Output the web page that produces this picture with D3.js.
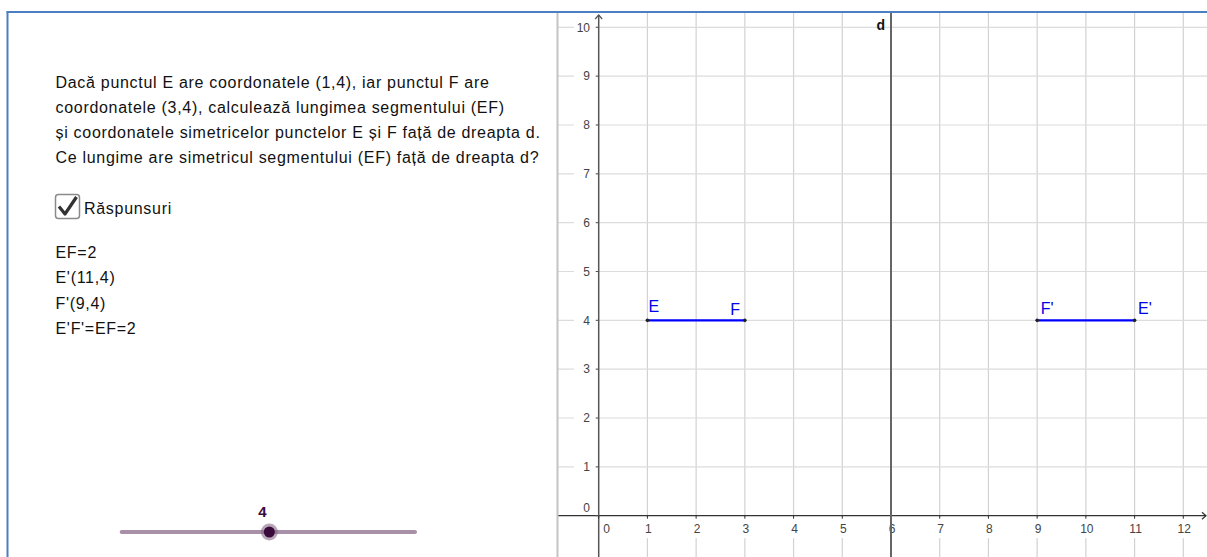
<!DOCTYPE html>
<html>
<head>
<meta charset="utf-8">
<script src="https://cdn.jsdelivr.net/npm/d3@7"></script>
<style>
html, body { margin: 0; padding: 0; background: #fff; overflow: hidden; }
text { font-family: "Liberation Sans", Arial, sans-serif; }
</style>
</head>
<body>
<div id="chart"></div>
<script>
// values
var xTicks = d3.range(0, 13);
var yTicks = d3.range(0, 11);
var pointNames = ["E", "F", "F'", "E'"];
var pointX = [1, 3, 9, 11];
var pointY = [4, 4, 4, 4];
var segments = [["E", "F"], ["F'", "E'"]];
var lineD = 6;
var questionLines = [
    "Dacă punctul E are coordonatele (1,4), iar punctul F are",
    "coordonatele (3,4), calculează lungimea segmentului (EF)",
    "și coordonatele simetricelor punctelor E și F față de dreapta d.",
    "Ce lungime are simetricul segmentului (EF) față de dreapta d?"
];
var checkboxLabel = "Răspunsuri";
var answerLines = ["EF=2", "E'(11,4)", "F'(9,4)", "E'F'=EF=2"];
var sliderMin = 0, sliderMax = 8, sliderValue = 4;

function init() {
    var w = 1207, h = 557;

    var svg = d3.select("#chart").append("svg")
        .attr("width", w)
        .attr("height", h);

    svg.append("rect").attr("width", w).attr("height", h).attr("fill", "#fff");

    // ---- graphics view ----
    var x = d3.scaleLinear().domain([0, 12]).range([598.7, 1183.3]);
    var y = d3.scaleLinear().domain([0, 10]).range([515.7, 27.3]);

    svg.append("clipPath").attr("id", "gclip")
        .append("rect").attr("x", 558).attr("y", 13).attr("width", w - 558).attr("height", h - 13);

    var g = svg.append("g").attr("clip-path", "url(#gclip)");

    // grid
    g.selectAll(".vgrid").data(xTicks.filter(d => d > 0)).enter().append("line")
        .attr("x1", d => x(d)).attr("x2", d => x(d))
        .attr("y1", 13).attr("y2", h)
        .attr("stroke", "#d2d2d2").attr("stroke-width", 1.2);
    g.selectAll(".hgrid").data(yTicks.filter(d => d > 0)).enter().append("line")
        .attr("x1", 558).attr("x2", w)
        .attr("y1", d => y(d)).attr("y2", d => y(d))
        .attr("stroke", "#dcdcdc").attr("stroke-width", 1.2);

    // axes
    g.append("line").attr("x1", 558).attr("x2", 1206)
        .attr("y1", y(0)).attr("y2", y(0))
        .attr("stroke", "#333").attr("stroke-width", 1.2);
    g.append("line").attr("x1", x(0)).attr("x2", x(0))
        .attr("y1", 15).attr("y2", h)
        .attr("stroke", "#555").attr("stroke-width", 1.5);
    // arrow heads
    g.append("path")
        .attr("d", "M" + (x(0) - 3.5) + ",19 L" + x(0) + ",15 L" + (x(0) + 3.5) + ",19")
        .attr("fill", "none").attr("stroke", "#555").attr("stroke-width", 1.2);
    g.append("path")
        .attr("d", "M1202," + (y(0) - 3.5) + " L1206," + y(0) + " L1202," + (y(0) + 3.5))
        .attr("fill", "none").attr("stroke", "#333").attr("stroke-width", 1.2);

    // y tick labels
    var yl = g.selectAll(".ylab").data(yTicks).enter().append("g");
    yl.filter(d => d > 0).append("rect")
        .attr("x", 574).attr("y", d => y(d) - 7).attr("width", 22).attr("height", 14)
        .attr("fill", "#fff");
    yl.append("line")
        .attr("x1", x(0) - 3).attr("x2", x(0))
        .attr("y1", d => y(d)).attr("y2", d => y(d))
        .attr("stroke", "#555");
    yl.append("text")
        .attr("x", 590)
        .attr("y", d => d === 0 ? y(d) - 3.5 : y(d) + 4.3)
        .attr("text-anchor", "end")
        .attr("font-size", 12)
        .attr("fill", "#444")
        .text(d => d);

    // x tick labels
    var xl = g.selectAll(".xlab").data(xTicks).enter().append("g");
    xl.append("rect")
        .attr("x", d => x(d) + (d === 0 ? 8 : 1) - (d >= 10 ? 9 : 6))
        .attr("y", y(0) + 1.5).attr("width", d => d >= 10 ? 18 : 12).attr("height", 21)
        .attr("fill", "#fff");
    xl.append("line")
        .attr("x1", d => x(d)).attr("x2", d => x(d))
        .attr("y1", y(0)).attr("y2", y(0) + 3)
        .attr("stroke", "#333");
    xl.append("text")
        .attr("x", d => x(d) + (d === 0 ? 8 : 1))
        .attr("y", 533)
        .attr("text-anchor", "middle")
        .attr("font-size", 12)
        .attr("fill", "#444")
        .text(d => d);

    // line d : x = 6
    g.append("line").attr("x1", x(lineD)).attr("x2", x(lineD))
        .attr("y1", 13).attr("y2", h)
        .attr("stroke", "#666").attr("stroke-width", 2);
    g.append("text").attr("x", x(lineD) - 14.5).attr("y", 29.5)
        .attr("font-size", 14).attr("font-weight", "bold").attr("fill", "#111")
        .text("d");

    // segments and points
    var pts = {};
    pointNames.forEach(function(n, i) { pts[n] = {x: pointX[i], y: pointY[i]}; });

    g.selectAll(".seg").data(segments).enter().append("line")
        .attr("x1", d => x(pts[d[0]].x)).attr("y1", d => y(pts[d[0]].y))
        .attr("x2", d => x(pts[d[1]].x)).attr("y2", d => y(pts[d[1]].y))
        .attr("stroke", "#0000ff").attr("stroke-width", 2.2);

    g.selectAll(".pt").data(pointNames).enter().append("circle")
        .attr("cx", d => x(pts[d].x)).attr("cy", d => y(pts[d].y))
        .attr("r", 1.8).attr("fill", "#222");

    var labelOffsets = {"E": [1, -8.5], "F": [-14.5, -5], "F'": [3.5, -6], "E'": [3.5, -6]};
    g.selectAll(".plab").data(pointNames).enter().append("text")
        .attr("x", d => x(pts[d].x) + labelOffsets[d][0])
        .attr("y", d => y(pts[d].y) + labelOffsets[d][1])
        .attr("font-size", 16).attr("fill", "#0000e6")
        .text(d => d);

    // ---- frame ----
    svg.append("line").attr("x1", 557.5).attr("x2", 557.5).attr("y1", 13).attr("y2", h)
        .attr("stroke", "#c4c4c4").attr("stroke-width", 2);
    svg.append("line").attr("x1", 7.5).attr("x2", 7.5).attr("y1", 11.5).attr("y2", h)
        .attr("stroke", "#4a80c2").attr("stroke-width", 2);
    svg.append("line").attr("x1", 6.5).attr("x2", w).attr("y1", 12).attr("y2", 12)
        .attr("stroke", "#4a80c2").attr("stroke-width", 2);

    // ---- left panel ----
    svg.selectAll(".q").data(questionLines).enter().append("text")
        .attr("x", 55.5).attr("y", (d, i) => 88.3 + i * 25)
        .attr("font-size", 16).attr("letter-spacing", 0.7).attr("fill", "#111")
        .text(d => d);

    // checkbox
    svg.append("rect").attr("x", 55.5).attr("y", 194.5).attr("width", 24).attr("height", 24)
        .attr("rx", 3).attr("fill", "#fff").attr("stroke", "#8a8a8a").attr("stroke-width", 1.5);
    svg.append("path").attr("d", "M59,206.5 L65,214 L76.5,197")
        .attr("fill", "none").attr("stroke", "#333").attr("stroke-width", 3.2)
        .attr("stroke-linejoin", "round");
    svg.append("text").attr("x", 84).attr("y", 214.3)
        .attr("font-size", 16).attr("letter-spacing", 0.7).attr("fill", "#111")
        .text(checkboxLabel);

    svg.selectAll(".a").data(answerLines).enter().append("text")
        .attr("x", 55.5).attr("y", (d, i) => 257.5 + i * 25.5)
        .attr("font-size", 16).attr("letter-spacing", 0.7).attr("fill", "#111")
        .text(d => d);

    // slider
    var s = d3.scaleLinear().domain([sliderMin, sliderMax]).range([121.7, 415]);
    svg.append("line").attr("x1", s(sliderMin)).attr("x2", s(sliderMax))
        .attr("y1", 532).attr("y2", 532)
        .attr("stroke", "#a890a8").attr("stroke-width", 4).attr("stroke-linecap", "round");
    svg.append("circle").attr("cx", s(sliderValue) + 1).attr("cy", 532).attr("r", 8.5)
        .attr("fill", "#7d5f7d").attr("fill-opacity", 0.55);
    svg.append("circle").attr("cx", s(sliderValue) + 1).attr("cy", 532).attr("r", 5.5)
        .attr("fill", "#3a0a3a");
    svg.append("text").attr("x", s(sliderValue) - 6).attr("y", 516.5)
        .attr("text-anchor", "middle").attr("font-size", 15).attr("font-weight", "bold")
        .attr("fill", "#3a0a3a")
        .text(sliderValue);
}
window.onload = init;
</script>
</body>
</html>
